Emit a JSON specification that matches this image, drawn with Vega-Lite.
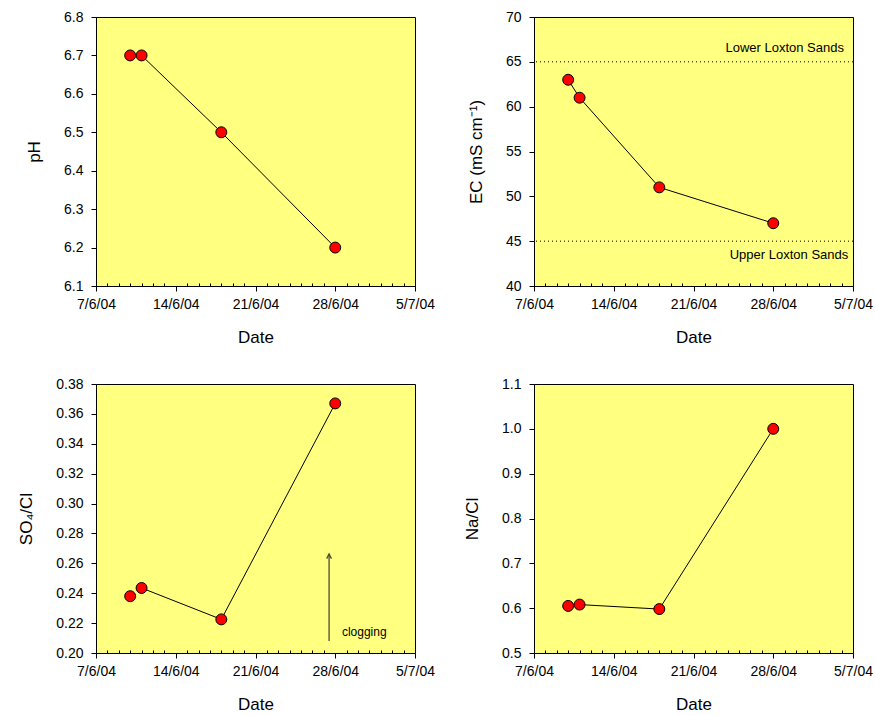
{
  "$schema": "https://vega.github.io/schema/vega-lite/v6.json",
  "padding": {"left": 17, "top": 9, "right": 5, "bottom": 5},
  "background": "white",
  "datasets": {
    "obs": [
      {"date": "2004-06-10T00:00:00Z", "pH": 6.7, "EC": 63, "SO4Cl": 0.238, "NaCl": 0.605, "first": true},
      {"date": "2004-06-11T00:00:00Z", "pH": 6.7, "EC": 61, "SO4Cl": 0.2435, "NaCl": 0.608, "first": false},
      {"date": "2004-06-18T00:00:00Z", "pH": 6.5, "EC": 51, "SO4Cl": 0.2225, "NaCl": 0.598, "first": false},
      {"date": "2004-06-28T00:00:00Z", "pH": 6.2, "EC": 47, "SO4Cl": 0.367, "NaCl": 1.0, "first": false}
    ]
  },
  "config": {
    "view": {"fill": "#FFFF80", "stroke": "black", "strokeWidth": 1},
    "font": "Liberation Sans",
    "axis": {
      "labelFont": "Liberation Sans", "labelFontSize": 14, "labelColor": "black",
      "titleFont": "Liberation Sans", "titleFontSize": 17, "titleFontWeight": "normal", "titleColor": "black",
      "tickColor": "black", "domainColor": "black", "tickSize": 5, "grid": false, "labelFlush": false
    },
    "axisY": {"labelPadding": 8, "titlePadding": 20},
    "axisX": {"labelPadding": 6, "titlePadding": 18, "labelOverlap": false}
  },
  "columns": 2,
  "spacing": {"row": 30, "column": 28},
  "concat": [
    {
      "width": 319, "height": 269,
      "data": {"name": "obs"},
      "encoding": {
        "x": {"field": "date", "type": "temporal", "scale": {"type": "utc", "domain": [1086566400000, 1088985600000]},
              "axis": {"title": "Date", "labelOverlap": false,
                       "values": [1086566400000, 1086652800000, 1086739200000, 1086825600000, 1086912000000, 1086998400000, 1087084800000, 1087171200000, 1087257600000, 1087344000000, 1087430400000, 1087516800000, 1087603200000, 1087689600000, 1087776000000, 1087862400000, 1087948800000, 1088035200000, 1088121600000, 1088208000000, 1088294400000, 1088380800000, 1088467200000, 1088553600000, 1088640000000, 1088726400000, 1088812800000, 1088899200000, 1088985600000],
                       "labelExpr": "((+datum.value - 1086566400000) % 604800000) == 0 ? utcFormat(datum.value, '%-d/%-m/%y') : ''",
                       "tickSize": {"condition": {"test": "((+datum.value - 1086566400000) % 604800000) == 0", "value": 5}, "value": -3}}},
        "y": {"field": "pH", "type": "quantitative", "scale": {"domain": [6.1, 6.8]}, "axis": {"title": "pH", "values": [6.1, 6.2, 6.3, 6.4, 6.5, 6.6, 6.7, 6.8], "format": ".1f"}}
      },
      "layer": [
        {"mark": {"type": "line", "color": "black", "strokeWidth": 1}},
        {"mark": {"type": "point", "filled": true, "fill": "#FF0000", "stroke": "black", "strokeWidth": 1, "size": 120, "opacity": 1}}
      ]
    },
    {
      "width": 319, "height": 269,
      "encoding": {
        "x": {"field": "date", "type": "temporal", "scale": {"type": "utc", "domain": [1086566400000, 1088985600000]},
              "axis": {"title": "Date", "labelOverlap": false,
                       "values": [1086566400000, 1086652800000, 1086739200000, 1086825600000, 1086912000000, 1086998400000, 1087084800000, 1087171200000, 1087257600000, 1087344000000, 1087430400000, 1087516800000, 1087603200000, 1087689600000, 1087776000000, 1087862400000, 1087948800000, 1088035200000, 1088121600000, 1088208000000, 1088294400000, 1088380800000, 1088467200000, 1088553600000, 1088640000000, 1088726400000, 1088812800000, 1088899200000, 1088985600000],
                       "labelExpr": "((+datum.value - 1086566400000) % 604800000) == 0 ? utcFormat(datum.value, '%-d/%-m/%y') : ''",
                       "tickSize": {"condition": {"test": "((+datum.value - 1086566400000) % 604800000) == 0", "value": 5}, "value": -3}}},
        "y": {"field": "EC", "type": "quantitative", "scale": {"domain": [40, 70]}, "axis": {"title": "EC (mS cm⁻¹)", "values": [40, 45, 50, 55, 60, 65, 70]}}
      },
      "layer": [
        {"data": {"values": [{"EC": 65}, {"EC": 45}]},
         "mark": {"type": "rule", "color": "black", "strokeWidth": 1, "strokeDash": [1, 3]},
         "encoding": {"x": null}},
        {"data": {"name": "obs"},
         "mark": {"type": "line", "color": "black", "strokeWidth": 1}},
        {"data": {"name": "obs"},
         "mark": {"type": "point", "filled": true, "fill": "#FF0000", "stroke": "black", "strokeWidth": 1, "size": 120, "opacity": 1}},
        {"data": {"values": [{"date": "2004-07-04T05:00:00Z", "EC": 66.55, "label": "Lower Loxton Sands"}, {"date": "2004-07-04T14:00:00Z", "EC": 43.46, "label": "Upper Loxton Sands"}]},
         "mark": {"type": "text", "align": "right", "baseline": "middle", "fontSize": 13, "font": "Liberation Sans", "color": "black"},
         "encoding": {"text": {"field": "label"}}}
      ]
    },
    {
      "width": 319, "height": 269,
      "encoding": {
        "x": {"field": "date", "type": "temporal", "scale": {"type": "utc", "domain": [1086566400000, 1088985600000]},
              "axis": {"title": "Date", "labelOverlap": false,
                       "values": [1086566400000, 1086652800000, 1086739200000, 1086825600000, 1086912000000, 1086998400000, 1087084800000, 1087171200000, 1087257600000, 1087344000000, 1087430400000, 1087516800000, 1087603200000, 1087689600000, 1087776000000, 1087862400000, 1087948800000, 1088035200000, 1088121600000, 1088208000000, 1088294400000, 1088380800000, 1088467200000, 1088553600000, 1088640000000, 1088726400000, 1088812800000, 1088899200000, 1088985600000],
                       "labelExpr": "((+datum.value - 1086566400000) % 604800000) == 0 ? utcFormat(datum.value, '%-d/%-m/%y') : ''",
                       "tickSize": {"condition": {"test": "((+datum.value - 1086566400000) % 604800000) == 0", "value": 5}, "value": -3}}},
        "y": {"field": "SO4Cl", "type": "quantitative", "scale": {"domain": [0.2, 0.38]}, "axis": {"title": "SO₄/Cl", "values": [0.2, 0.22, 0.24, 0.26, 0.28, 0.3, 0.32, 0.34, 0.36, 0.38], "format": ".2f"}}
      },
      "layer": [
        {"data": {"name": "obs"},
         "transform": [{"filter": "!datum.first"}],
         "mark": {"type": "line", "color": "black", "strokeWidth": 1}},
        {"data": {"name": "obs"},
         "mark": {"type": "point", "filled": true, "fill": "#FF0000", "stroke": "black", "strokeWidth": 1, "size": 120, "opacity": 1}},
        {"data": {"values": [{"date": "2004-06-27T11:00:00Z", "SO4Cl": 0.208, "top": 0.2663}]},
         "mark": {"type": "rule", "color": "#4d4d33", "strokeWidth": 1.3},
         "encoding": {"y2": {"field": "top"}}},
        {"data": {"values": [{"date": "2004-06-27T11:00:00Z", "SO4Cl": 0.2663}]},
         "mark": {"type": "point", "shape": "M-0.5,1L0,0L0.5,1", "filled": false, "stroke": "#4d4d33", "strokeWidth": 1.3, "size": 90, "opacity": 1}},
        {"data": {"values": [{"date": "2004-06-28T14:00:00Z", "SO4Cl": 0.214, "label": "clogging"}]},
         "mark": {"type": "text", "align": "left", "baseline": "middle", "fontSize": 12, "font": "Liberation Sans", "color": "black"},
         "encoding": {"text": {"field": "label"}}}
      ]
    },
    {
      "width": 319, "height": 269,
      "data": {"name": "obs"},
      "encoding": {
        "x": {"field": "date", "type": "temporal", "scale": {"type": "utc", "domain": [1086566400000, 1088985600000]},
              "axis": {"title": "Date", "labelOverlap": false,
                       "values": [1086566400000, 1086652800000, 1086739200000, 1086825600000, 1086912000000, 1086998400000, 1087084800000, 1087171200000, 1087257600000, 1087344000000, 1087430400000, 1087516800000, 1087603200000, 1087689600000, 1087776000000, 1087862400000, 1087948800000, 1088035200000, 1088121600000, 1088208000000, 1088294400000, 1088380800000, 1088467200000, 1088553600000, 1088640000000, 1088726400000, 1088812800000, 1088899200000, 1088985600000],
                       "labelExpr": "((+datum.value - 1086566400000) % 604800000) == 0 ? utcFormat(datum.value, '%-d/%-m/%y') : ''",
                       "tickSize": {"condition": {"test": "((+datum.value - 1086566400000) % 604800000) == 0", "value": 5}, "value": -3}}},
        "y": {"field": "NaCl", "type": "quantitative", "scale": {"domain": [0.5, 1.1]}, "axis": {"title": "Na/Cl", "values": [0.5, 0.6, 0.7, 0.8, 0.9, 1.0, 1.1], "format": ".1f"}}
      },
      "layer": [
        {"transform": [{"filter": "!datum.first"}],
         "mark": {"type": "line", "color": "black", "strokeWidth": 1}},
        {"mark": {"type": "point", "filled": true, "fill": "#FF0000", "stroke": "black", "strokeWidth": 1, "size": 120, "opacity": 1}}
      ]
    }
  ]
}
